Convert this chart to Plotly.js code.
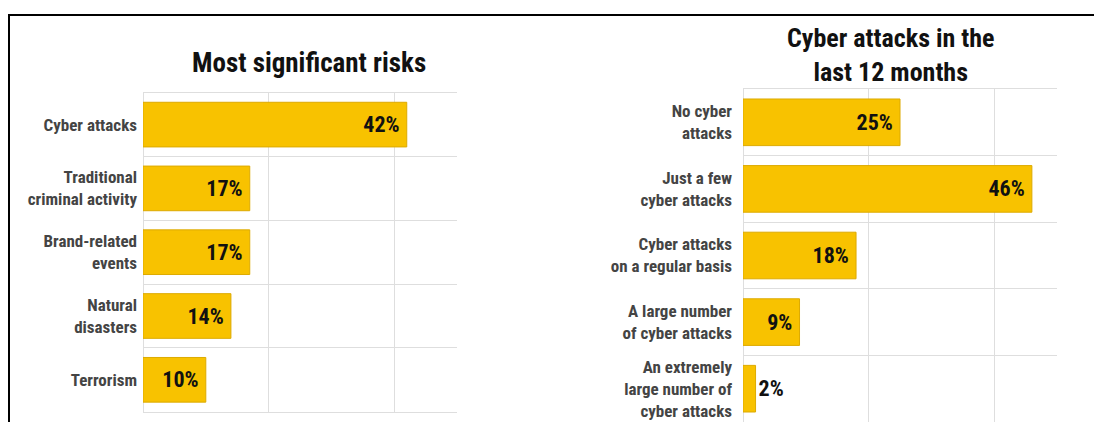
<!DOCTYPE html>
<html>
<head>
<meta charset="utf-8">
<script src="https://cdn.plot.ly/plotly-3.0.1.min.js"></script>
<style>
  html, body { margin: 0; padding: 0; background: #ffffff; }
  #chart { width: 1094px; height: 422px; }
</style>
</head>
<body>
<div id="chart"></div>
<script>
// ---- data ----
const riskCategories = [
  "Cyber attacks",
  "Traditional<br>criminal activity",
  "Brand-related<br>events",
  "Natural<br>disasters",
  "Terrorism"
];
const riskValues = [42, 17, 17, 14, 10];

const attackCategories = [
  "No cyber<br>attacks",
  "Just a few<br>cyber attacks",
  "Cyber attacks<br>on a regular basis",
  "A large number<br>of cyber attacks",
  "An extremely<br>large number of<br>cyber attacks"
];
const attackValues = [25, 46, 18, 9, 2];

const leftTitle = "Most significant risks";
const rightTitle = "Cyber attacks in the<br>last 12 months";

// ---- style ----
const FONT = '"Roboto Condensed", "Liberation Sans Narrow", Roboto, "DejaVu Sans Condensed", sans-serif';
const BAR = '#F8C200';
const BAR_EDGE = '#DDAA00';
const GRID = '#dedede';
const W = 1094, H = 422;

function barTrace(cats, vals, xa, ya) {
  const f = { family: FONT, size: 22, color: '#111111', weight: 700 };
  return {
    type: 'bar',
    orientation: 'h',
    y: cats,
    x: vals,
    xaxis: xa,
    yaxis: ya,
    width: 0.7,
    marker: { color: BAR, line: { color: BAR_EDGE, width: 1 } },
    text: vals.map(v => v + '%\u2009'),
    textposition: vals.map(v => v >= 5 ? 'inside' : 'outside'),
    insidetextanchor: 'end',
    textangle: 0,
    constraintext: 'none',
    cliponaxis: false,
    textfont: f,
    insidetextfont: f,
    outsidetextfont: f,
    hoverinfo: 'none',
    showlegend: false
  };
}

const data = [
  barTrace(riskCategories, riskValues, 'x', 'y'),
  barTrace(attackCategories, attackValues, 'x2', 'y2')
];

function xAxis(dom, anchor) {
  return {
    domain: dom,
    anchor: anchor,
    range: [0, 50],
    dtick: 20,
    showgrid: true,
    gridcolor: GRID,
    gridwidth: 1,
    zeroline: true,
    zerolinecolor: GRID,
    zerolinewidth: 1,
    showticklabels: false,
    ticks: '',
    showline: true,
    linecolor: GRID,
    linewidth: 1,
    mirror: true,
    fixedrange: true
  };
}
function yAxis(dom, anchor, standoff) {
  return {
    domain: dom,
    anchor: anchor,
    type: 'category',
    autorange: 'reversed',
    tickson: 'boundaries',
    showgrid: true,
    gridcolor: GRID,
    gridwidth: 1,
    ticks: '',
    ticklen: 0,
    ticklabelstandoff: standoff,
    showline: false,
    zeroline: false,
    automargin: false,
    tickfont: { family: FONT, size: 17, color: '#444444', weight: 700 },
    fixedrange: true
  };
}

const layout = {
  width: W,
  height: H,
  margin: { l: 0, r: 0, t: 0, b: 0 },
  paper_bgcolor: '#ffffff',
  plot_bgcolor: '#ffffff',
  bargap: 0.3,
  xaxis: xAxis([143 / W, 457 / W], 'y'),
  yaxis: yAxis([1 - 411.7 / H, 1 - 92.7 / H], 'x', 5),
  xaxis2: xAxis([743 / W, 1057 / W], 'y2'),
  yaxis2: yAxis([0, 1 - 89 / H], 'x2', 10),
  annotations: [
    { text: leftTitle, xref: 'paper', yref: 'paper', x: 309 / W, y: 1 - 63 / H,
      xanchor: 'center', yanchor: 'middle', showarrow: false,
      font: { family: FONT, size: 27, color: '#111111', weight: 700 } },
    { text: rightTitle, xref: 'paper', yref: 'paper', x: 891 / W, y: 1 - 55 / H,
      xanchor: 'center', yanchor: 'middle', showarrow: false,
      font: { family: FONT, size: 26, color: '#111111', weight: 700 } }
  ],
  shapes: [
    { type: 'line', xref: 'paper', yref: 'paper', x0: 8 / W, x1: 1, y0: 1 - 15 / H, y1: 1 - 15 / H,
      line: { color: '#000000', width: 2 } },
    { type: 'line', xref: 'paper', yref: 'paper', x0: 9 / W, x1: 9 / W, y0: 1 - 14 / H, y1: 0,
      line: { color: '#000000', width: 2 } }
  ]
};

Plotly.newPlot('chart', data, layout, { staticPlot: true, displayModeBar: false });
</script>
</body>
</html>
